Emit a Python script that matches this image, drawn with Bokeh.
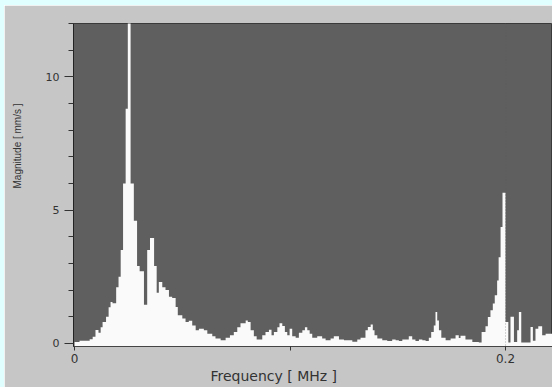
from bokeh.plotting import figure
from bokeh.models import Range1d, FixedTicker, Span, Spacer, Title
from bokeh.layouts import column, row
from bokeh.embed import file_html
from bokeh.resources import INLINE

# ---- data ----
freq_mhz = [
    0.0000, 0.0023, 0.0070, 0.0084, 0.0097, 0.0111, 0.0121, 0.0130, 0.0146, 0.0158,
    0.0167, 0.0176, 0.0193, 0.0204, 0.0214, 0.0225, 0.0237, 0.0247, 0.0260, 0.0275,
    0.0290, 0.0302, 0.0322, 0.0337, 0.0350, 0.0369, 0.0381, 0.0391, 0.0407, 0.0422,
    0.0438, 0.0453, 0.0469, 0.0479, 0.0500, 0.0515, 0.0530, 0.0546, 0.0562, 0.0577,
    0.0600, 0.0616, 0.0639, 0.0654, 0.0678, 0.0701, 0.0721, 0.0739, 0.0755, 0.0770,
    0.0794, 0.0804, 0.0817, 0.0832, 0.0845, 0.0871, 0.0886, 0.0902, 0.0914, 0.0925,
    0.0941, 0.0951, 0.0964, 0.0976, 0.0987, 0.0998, 0.1010, 0.1026, 0.1041, 0.1057,
    0.1069, 0.1080, 0.1091, 0.1103, 0.1126, 0.1149, 0.1165, 0.1188, 0.1203, 0.1227,
    0.1250, 0.1289, 0.1312, 0.1327, 0.1350, 0.1361, 0.1374, 0.1384, 0.1392, 0.1405,
    0.1428, 0.1451, 0.1474, 0.1490, 0.1505, 0.1521, 0.1551, 0.1567, 0.1582, 0.1598,
    0.1614, 0.1629, 0.1644, 0.1655, 0.1667, 0.1675, 0.1683, 0.1691, 0.1702, 0.1722,
    0.1745, 0.1768, 0.1783, 0.1791, 0.1814, 0.1846, 0.1876, 0.1889, 0.1907, 0.1918,
    0.1930, 0.1941, 0.1950, 0.1961, 0.1968, 0.1977, 0.1986, 0.2000, 0.2013, 0.2023,
    0.2039, 0.2054, 0.2062, 0.2073, 0.2116, 0.2127, 0.2139, 0.2152, 0.2170, 0.2186,
]
magnitude = [
    0.05, 0.10, 0.15, 0.25, 0.50, 0.40, 0.60, 0.80, 1.00, 1.35,
    1.55, 1.50, 2.10, 2.50, 3.50, 6.00, 8.80, 12.5, 6.00, 4.60,
    2.90, 2.70, 1.45, 3.50, 3.95, 2.90, 1.90, 2.30, 2.10, 2.00,
    1.75, 1.70, 1.36, 1.05, 0.93, 0.80, 0.85, 0.67, 0.49, 0.55,
    0.49, 0.36, 0.26, 0.18, 0.11, 0.21, 0.30, 0.42, 0.60, 0.75,
    0.86, 0.80, 0.49, 0.26, 0.14, 0.30, 0.42, 0.51, 0.30, 0.42,
    0.60, 0.75, 0.65, 0.42, 0.30, 0.55, 0.26, 0.21, 0.40, 0.49,
    0.60, 0.49, 0.36, 0.21, 0.26, 0.18, 0.11, 0.18, 0.26, 0.14,
    0.11, 0.06, 0.14, 0.21, 0.49, 0.61, 0.71, 0.49, 0.30, 0.18,
    0.11, 0.09, 0.14, 0.11, 0.09, 0.14, 0.26, 0.14, 0.09, 0.14,
    0.11, 0.09, 0.21, 0.42, 0.67, 1.17, 0.86, 0.49, 0.21, 0.11,
    0.18, 0.30, 0.20, 0.28, 0.14, 0.05, 0.03, 0.42, 0.64, 0.99,
    1.24, 1.49, 1.80, 2.36, 3.23, 4.36, 5.65, 0.80, 0.03, 1.00,
    0.05, 0.49, 1.17, 0.03, 0.61, 0.10, 0.55, 0.64, 0.30, 0.36,
]
freq_end = 0.2225
x_ticks = [0, 0.1, 0.2]
x_tick_labels = {0: "0", 0.1: "", 0.2: "0.2"}
y_ticks = [0, 5, 10]
y_minor_ticks = list(range(0, 13))
marker_freq = 0.2
x_title = "Frequency [ MHz ]"
y_title = "Magnitude [ mm/s ]"

CYAN = "#e0ffff"
PANEL = "#c6c6c6"
DARK = "#5f5f5f"

p = figure(width=548, height=382, output_backend="svg", toolbar_location=None,
           x_range=Range1d(-0.0005, 0.2218), y_range=Range1d(-0.12, 12.0),
           min_border_left=69, min_border_right=0, min_border_top=18, min_border_bottom=41,
           background_fill_color=DARK, border_fill_color=PANEL,
           outline_line_color="#3a3a3a", outline_line_width=1)

p.varea_step(x=freq_mhz + [freq_end], y1=-0.12, y2=magnitude + [magnitude[-1]],
             step_mode="after", fill_color="#fafafa")

p.add_layout(Span(location=marker_freq, dimension="height", line_color=DARK,
                  line_alpha=0.5, line_dash="1 2", line_width=1))

p.grid.visible = False

xa = p.xaxis[0]
xa.ticker = FixedTicker(ticks=x_ticks, minor_ticks=[])
xa.major_label_overrides = x_tick_labels
xa.major_tick_out = 4
xa.major_tick_in = 0
xa.major_label_standoff = 3
xa.axis_line_color = "#444444"
xa.major_tick_line_color = "#333333"
xa.major_label_text_font = "DejaVu Sans"
xa.major_label_text_font_size = "12px"
xa.major_label_text_color = "#333333"

ya = p.yaxis[0]
ya.ticker = FixedTicker(ticks=y_ticks, minor_ticks=y_minor_ticks)
ya.major_tick_out = 9
ya.major_tick_in = 0
ya.minor_tick_out = 5
ya.minor_tick_in = 0
ya.major_label_standoff = 5
ya.axis_line_color = "#222222"
ya.major_tick_line_color = "#333333"
ya.minor_tick_line_color = "#333333"
ya.major_label_text_font = "DejaVu Sans"
ya.major_label_text_font_size = "11px"
ya.major_label_text_color = "#333333"
# blank axis label used only as padding between tick labels and the title
ya.axis_label = " "
ya.axis_label_text_font_size = "2px"
ya.axis_label_standoff = 12

p.add_layout(Title(text=x_title, align="left", offset=137, standoff=0,
                   text_font="DejaVu Sans", text_font_size="14px",
                   text_font_style="normal", text_color="#333333"), "below")
p.add_layout(Title(text=y_title, align="left", offset=158, standoff=6,
                   text_font="Liberation Sans", text_font_size="10px",
                   text_font_style="normal", text_color="#333333"), "left")

layout = column(
    Spacer(width=552, height=5, styles={"background-color": CYAN}),
    row(Spacer(width=4, height=382, styles={"background-color": CYAN}), p),
)

open("out.html", "w").write(file_html(layout, INLINE))
